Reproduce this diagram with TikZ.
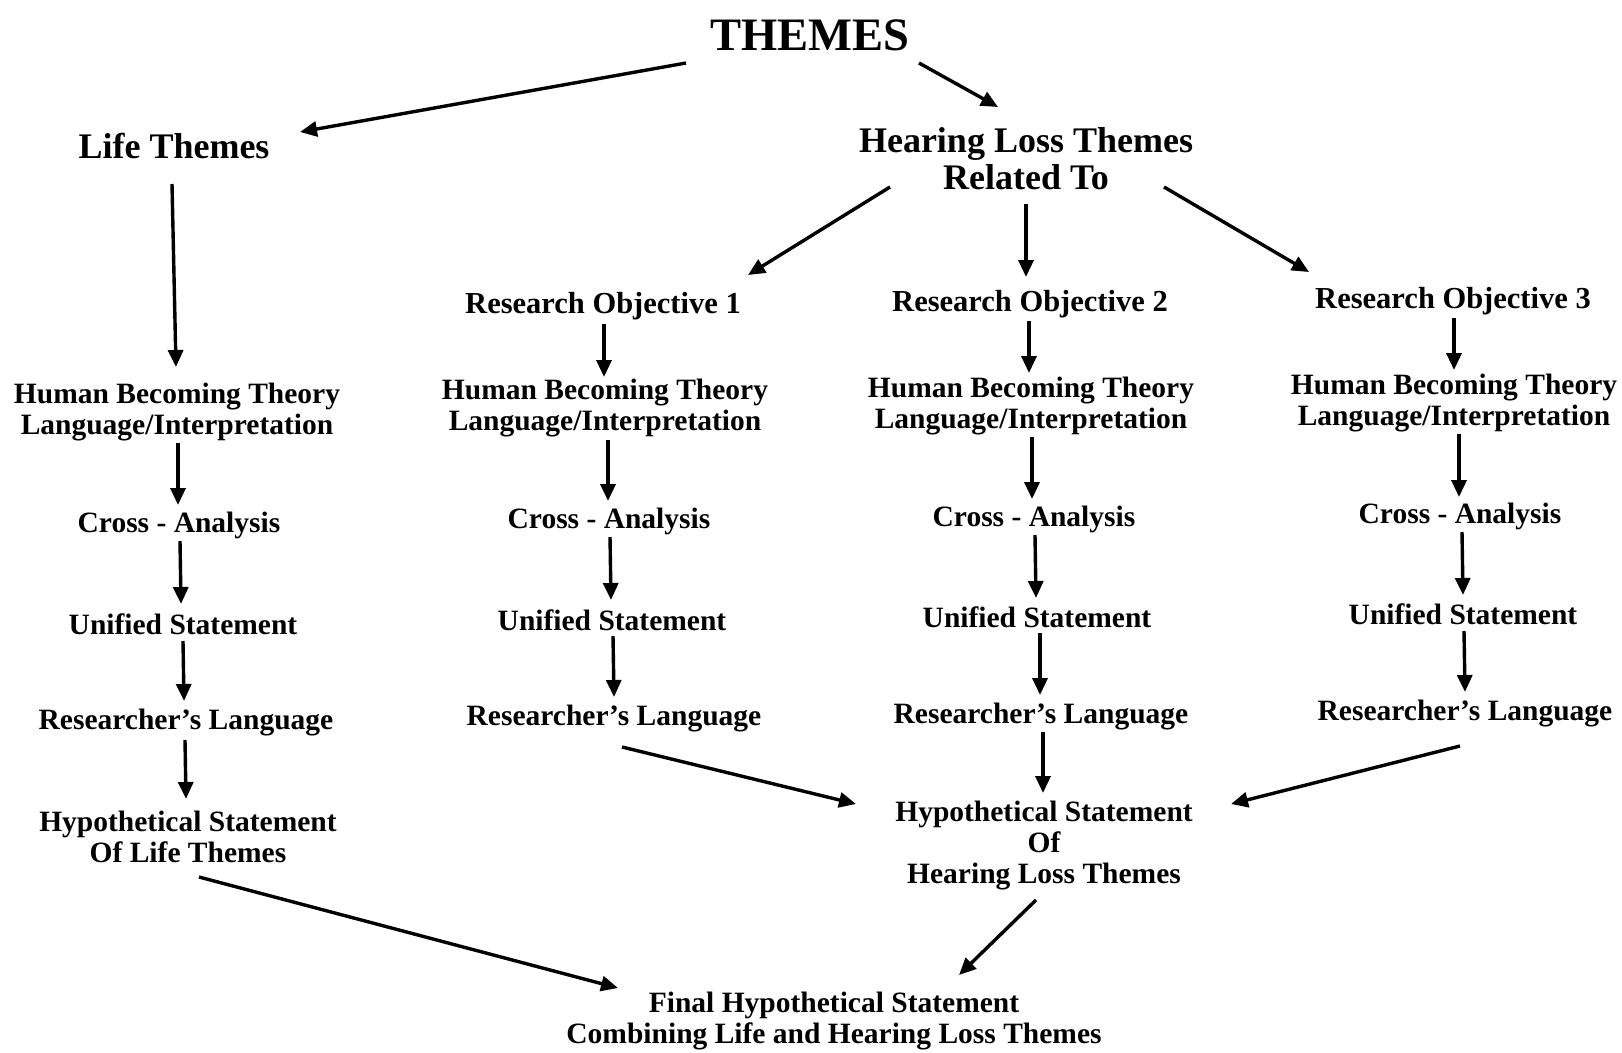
\documentclass[tikz,border=0pt]{standalone}
\usepackage{fontspec}
\setmainfont{Liberation Serif}
\usetikzlibrary{arrows.meta,calc}
\begin{document}
\begin{tikzpicture}[x=1pt,y=-1pt,
  lbl/.style={font=\bfseries\fontsize{29.5}{31}\selectfont, align=center, inner sep=0pt},
  robj/.style={font=\bfseries\fontsize{30.5}{32}\selectfont, align=center, inner sep=0pt},
  big/.style={font=\bfseries\fontsize{36}{37}\selectfont, align=center, inner sep=0pt},
  arr/.style={line width=3.4pt, -{Triangle[length=17pt,width=15pt]}}]
\useasboundingbox (0,0) rectangle (1622,1052);
\fill[white] (0,0) rectangle (1622,1052);
% nodes
\node[font=\bfseries\fontsize{46.5}{48}\selectfont, inner sep=0pt] (themes) at (810,35) {THEMES};
\node[big] (life) at (174,146) {Life Themes};
\node[big] (hl) at (1026,159) {Hearing Loss Themes\\Related To};
\node[robj] (ro1) at (603,306) {Research Objective 1};
\node[robj] (ro2) at (1030,304) {Research Objective 2};
\node[robj] (ro3) at (1453,301) {Research Objective 3};
\node[lbl] (hbt0) at (177,412) {Human Becoming Theory\\Language/Interpretation};
\node[lbl] (hbt1) at (605,408) {Human Becoming Theory\\Language/Interpretation};
\node[lbl] (hbt2) at (1031,406) {Human Becoming Theory\\Language/Interpretation};
\node[lbl] (hbt3) at (1454,403) {Human Becoming Theory\\Language/Interpretation};
\node[lbl] (cr0) at (179,525) {Cross - Analysis};
\node[lbl] (cr1) at (609,521) {Cross - Analysis};
\node[lbl] (cr2) at (1034,519) {Cross - Analysis};
\node[lbl] (cr3) at (1460,516) {Cross - Analysis};
\node[lbl] (un0) at (183,624) {Unified Statement};
\node[lbl] (un1) at (612,620) {Unified Statement};
\node[lbl] (un2) at (1037,617) {Unified Statement};
\node[lbl] (un3) at (1463,614) {Unified Statement};
\node[lbl] (rl0) at (186,723) {Researcher’s Language};
\node[lbl] (rl1) at (614,719) {Researcher’s Language};
\node[lbl] (rl2) at (1041,717) {Researcher’s Language};
\node[lbl] (rl3) at (1465,714) {Researcher’s Language};
\node[lbl] (hyp0) at (188,837) {Hypothetical Statement\\Of Life Themes};
\node[lbl] (hyp) at (1044,846) {Hypothetical Statement\\Of\\Hearing Loss Themes};
\node[lbl] (final) at (834,1021) {Final Hypothetical Statement\\Combining Life and Hearing Loss Themes};
% arrows
\draw[arr] ($(themes)+(-124,28)$) -- ($(life)+(126,-14)$);
\draw[arr] ($(themes)+(109,28)$) -- ($(hl)+(-28,-52)$);
\draw[arr] ($(life)+(-2,38)$) -- ($(hbt0)+(-1,-45)$);
\draw[arr] ($(hl)+(-136,28)$) -- ($(ro1)+(145,-31)$);
\draw[arr] ($(hl)+(0,45)$) -- ($(ro2)+(-4,-27)$);
\draw[arr] ($(hl)+(138,28)$) -- ($(ro3)+(-144,-29)$);
\draw[arr] ($(ro1)+(1,18)$) -- ($(hbt1)+(-1,-31)$);
\draw[arr] ($(ro2)+(-1,17)$) -- ($(hbt2)+(-2,-33)$);
\draw[arr] ($(ro3)+(1,17)$) -- ($(hbt3)+(0,-33)$);
\draw[arr] ($(hbt0)+(1,31)$) -- ($(cr0)+(-1,-20)$);
\draw[arr] ($(hbt1)+(3,32)$) -- ($(cr1)+(-1,-20)$);
\draw[arr] ($(hbt2)+(1,31)$) -- ($(cr2)+(-2,-20)$);
\draw[arr] ($(hbt3)+(5,31)$) -- ($(cr3)+(-1,-19)$);
\draw[arr] ($(cr0)+(1,16)$) -- ($(un0)+(-2,-20)$);
\draw[arr] ($(cr1)+(1,16)$) -- ($(un1)+(-1,-20)$);
\draw[arr] ($(cr2)+(1,16)$) -- ($(un2)+(-1,-19)$);
\draw[arr] ($(cr3)+(2,16)$) -- ($(un3)+(0,-19)$);
\draw[arr] ($(un0)+(0,17)$) -- ($(rl0)+(-2,-22)$);
\draw[arr] ($(un1)+(1,16)$) -- ($(rl1)+(0,-22)$);
\draw[arr] ($(un2)+(3,16)$) -- ($(rl2)+(-1,-22)$);
\draw[arr] ($(un3)+(1,17)$) -- ($(rl3)+(0,-22)$);
\draw[arr] ($(rl0)+(-1,17)$) -- ($(hyp0)+(-2,-38)$);
\draw[arr] ($(rl2)+(2,15)$) -- ($(hyp)+(-1,-53)$);
\draw[arr] ($(rl1)+(8,28)$) -- ($(hyp)+(-188,-42)$);
\draw[arr] ($(rl3)+(-5,32)$) -- ($(hyp)+(187,-42)$);
\draw[arr] ($(hyp0)+(11,40)$) -- ($(final)+(-216,-33)$);
\draw[arr] ($(hyp)+(-8,54)$) -- ($(final)+(125,-46)$);
\end{tikzpicture}
\end{document}
